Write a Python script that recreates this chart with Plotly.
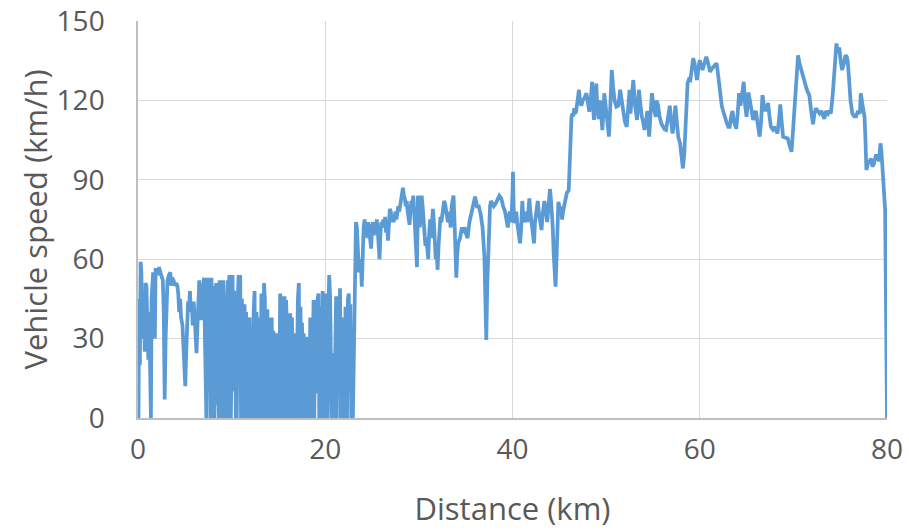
import plotly.graph_objects as go

# ---- segment 1: 0 - 7 km (urban start) ----
dist_start = [
    0.00, 0.05, 0.12, 0.20, 0.28, 0.36, 0.45, 0.55, 0.64, 0.72, 0.80, 0.90, 1.00, 1.10, 1.20, 1.30, 1.38,
    1.45, 1.52, 1.62, 1.72, 1.80, 1.88, 2.00, 2.12, 2.25, 2.40, 2.55, 2.65, 2.75, 2.85, 2.95, 3.05, 3.15,
    3.30, 3.45, 3.55, 3.65, 3.80, 3.95, 4.05, 4.20, 4.30, 4.40, 4.50, 4.60, 4.75, 4.85, 4.95, 5.05, 5.15,
    5.25, 5.35, 5.45, 5.55, 5.65, 5.75, 5.85, 5.95, 6.05, 6.15, 6.25, 6.35, 6.45, 6.55, 6.65, 6.75, 6.85,
    6.95, 7.05,
]
speed_start = [
    0, 0, 45, 20, 59, 55, 30, 48, 44, 25, 51, 50, 35, 22, 40, 0, 0,
    45, 53, 55, 50, 30, 56, 56, 54, 57, 55, 53, 52, 40, 7, 30, 49, 52,
    54, 55, 50, 53, 52, 50, 51, 50, 47, 40, 45, 38, 35, 27, 20, 12, 25,
    36, 44, 42, 48, 40, 43, 35, 44, 38, 30, 24.5, 35, 45, 52, 48, 37, 42,
    50, 53,
]

# ---- segment 2: 7 - 23 km (stop-and-go) ----
dist_stopgo = [
    7.15, 7.22, 7.30, 7.38, 7.45, 7.55, 7.65, 7.75, 7.85, 7.95, 8.05, 8.15, 8.25, 8.35, 8.45, 8.55,
    8.62, 8.72, 8.82, 8.92, 9.00, 9.10, 9.20, 9.28, 9.38, 9.48, 9.58, 9.66, 9.75, 9.85, 9.92, 10.00,
    10.10, 10.18, 10.26, 10.35, 10.45, 10.55, 10.65, 10.75, 10.85, 10.92, 11.00, 11.10, 11.20, 11.28,
    11.38, 11.48, 11.55, 11.63, 11.72, 11.82, 11.92, 12.00, 12.10, 12.18, 12.26, 12.35, 12.45, 12.55,
    12.65, 12.75, 12.83, 12.92, 13.00, 13.08, 13.18, 13.28, 13.36, 13.46, 13.55, 13.62, 13.72, 13.82,
    13.90, 14.00, 14.10, 14.18, 14.28, 14.38, 14.46, 14.55, 14.64, 14.72, 14.82, 14.90, 15.00, 15.08,
    15.18, 15.28, 15.36, 15.45, 15.55, 15.65, 15.72, 15.82, 15.92, 16.00, 16.08, 16.18, 16.26, 16.36,
    16.45, 16.55, 16.64, 16.72, 16.82, 16.90, 16.98, 17.08, 17.18, 17.25, 17.35, 17.45, 17.52, 17.60,
    17.70, 17.78, 17.88, 17.96, 18.05, 18.12, 18.22, 18.30, 18.40, 18.48, 18.58, 18.66, 18.75, 18.83,
    18.92, 19.00, 19.08, 19.18, 19.28, 19.36, 19.45, 19.55, 19.62, 19.72, 19.82, 19.90, 19.98, 20.08,
    20.16, 20.24, 20.33, 20.42, 20.52, 20.60, 20.68, 20.78, 20.88, 20.96, 21.06, 21.16, 21.22, 21.30,
    21.40, 21.50, 21.58, 21.66, 21.76, 21.84, 21.92, 22.00, 22.08, 22.16, 22.25, 22.33, 22.42, 22.52,
    22.60, 22.68, 22.78, 22.88, 22.95, 23.05, 23.12,
]
speed_stopgo = [
    30, 0, 0, 40, 53, 10, 50, 0, 53, 20, 50, 0, 45, 51, 5, 48,
    0, 52, 25, 50, 0, 52, 40, 0, 45, 30, 52, 0, 54, 48, 0, 52,
    54, 10, 48, 45, 0, 0, 45, 54, 20, 54, 0, 45, 30, 0,
    43, 27, 40, 0, 38, 27, 38, 0, 30, 13, 0, 40, 48, 0,
    40, 33, 0, 38, 20, 0, 47, 40, 0, 51, 45, 0, 40, 41,
    0, 30, 38, 0, 38, 15, 33, 0, 32, 10, 32, 0, 25.7, 0,
    47, 42, 0, 46, 20, 46, 0, 44.6, 30, 0, 29.5, 0, 39.6, 10,
    38, 0, 32, 0, 20, 0, 35, 45, 51, 0, 42, 20, 36, 0,
    32, 0, 30.7, 15, 30.7, 0, 30.7, 8, 38, 0, 38, 20, 44.6, 0,
    44.6, 30, 9.4, 45, 47, 0, 42, 20, 0, 48, 30, 0, 47, 40,
    15, 0, 40, 54, 46, 5, 0, 10, 24.5, 0, 35, 46, 0, 34.5,
    20, 42, 49, 0, 38, 0, 15, 30, 0, 42, 35, 0, 45, 47,
    10, 43, 0, 10, 0, 30, 49,
]

# ---- segment 3: 23 - 80 km (rural / motorway) ----
dist_road = [
    23.20, 23.28, 23.38, 23.50, 23.60, 23.70, 23.80, 23.90, 24.00, 24.10, 24.20,
    24.30, 24.40, 24.50, 24.60, 24.70, 24.80, 24.90, 25.00, 25.10, 25.20, 25.30, 25.40, 25.50, 25.60,
    25.70, 25.80, 25.90, 26.00, 26.10, 26.20, 26.30, 26.40, 26.50, 26.60, 26.70, 26.80, 26.90, 27.00,
    27.10, 27.20, 27.30, 27.40, 27.50, 27.60, 27.70, 27.80, 27.90, 28.00, 28.10, 28.20, 28.30, 28.40,
    28.50, 28.60, 28.70, 28.80, 28.90, 29.00, 29.10, 29.20, 29.30, 29.40, 29.50, 29.60, 29.70, 29.80,
    29.90, 30.00, 30.10, 30.20, 30.30, 30.40, 30.50, 30.60, 30.70, 30.80, 30.90, 31.00, 31.10, 31.20,
    31.30, 31.40, 31.50, 31.60, 31.70, 31.80, 31.90, 32.00, 32.10, 32.20, 32.30, 32.40, 32.50, 32.60,
    32.70, 32.80, 32.90, 33.00, 33.10, 33.20, 33.30, 33.40, 33.50, 33.60, 33.70, 33.80, 33.90, 34.00,
    34.10, 34.20, 34.40, 34.60, 34.70, 34.90, 35.00, 35.20, 35.40, 35.60, 35.80, 36.00, 36.10, 36.20,
    36.40, 36.50, 36.60, 36.80, 36.90, 37.00, 37.10, 37.20, 37.30, 37.40, 37.50, 37.60, 37.70, 37.80,
    37.90, 38.00, 38.20, 38.40, 38.60, 38.80, 38.90, 39.00, 39.20, 39.30, 39.40, 39.50, 39.60, 39.70,
    39.80, 39.90, 40.00, 40.05, 40.12, 40.20, 40.30, 40.40, 40.50, 40.60, 40.70, 40.80, 40.90, 41.00,
    41.05, 41.15, 41.30, 41.40, 41.50, 41.60, 41.70, 41.80, 41.90, 42.00, 42.10, 42.20, 42.30, 42.40,
    42.50, 42.60, 42.70, 42.80, 42.90, 43.00, 43.10, 43.20, 43.30, 43.40, 43.50, 43.60, 43.70, 43.80,
    43.90, 44.00, 44.10, 44.20, 44.30, 44.40, 44.50, 44.60, 44.70, 44.80, 44.90, 45.00, 45.10, 45.20,
    45.30, 45.40, 45.50, 45.60, 45.70, 45.80, 45.90, 46.00, 46.10, 46.20, 46.30, 46.40, 46.50, 46.60,
    46.70, 46.80, 46.90, 47.00, 47.10, 47.20, 47.35, 47.50, 47.70, 47.90, 48.05, 48.20, 48.35, 48.50,
    48.60, 48.70, 48.85, 48.95, 49.05, 49.20, 49.35, 49.45, 49.60, 49.70, 49.80, 49.95, 50.10, 50.30,
    50.45, 50.60, 50.75, 50.90, 51.10, 51.30, 51.50, 51.65, 51.80, 52.00, 52.20, 52.35, 52.50, 52.60,
    52.75, 52.90, 53.10, 53.30, 53.50, 53.65, 53.80, 53.95, 54.10, 54.25, 54.40, 54.50, 54.60, 54.75,
    54.90, 55.05, 55.20, 55.30, 55.40, 55.55, 55.70, 55.90, 56.10, 56.25, 56.40, 56.55, 56.70, 56.80,
    56.95, 57.10, 57.25, 57.40, 57.55, 57.70, 57.90, 58.05, 58.20, 58.35, 58.50, 58.60, 58.70, 58.85,
    59.00, 59.15, 59.30, 59.45, 59.60, 59.70, 59.85, 60.00, 60.15, 60.30, 60.50, 60.70, 60.90, 61.10,
    61.30, 61.50, 61.80, 61.95, 62.10, 62.20, 62.35, 62.50, 62.70, 62.90, 63.05, 63.20, 63.35, 63.50,
    63.65, 63.90, 64.05, 64.20, 64.35, 64.50, 64.70, 64.85, 65.00, 65.10, 65.20, 65.35, 65.50, 65.70,
    65.85, 66.00, 66.15, 66.40, 66.55, 66.70, 66.85, 67.00, 67.15, 67.30, 67.45, 67.60, 67.80, 67.95,
    68.10, 68.30, 68.45, 68.60, 68.75, 68.90, 69.10, 69.40, 69.60, 69.80, 69.95, 70.10, 70.30, 70.50,
    70.65, 70.80, 71.00, 71.20, 71.40, 71.55, 71.70, 71.90, 72.10, 72.25, 72.40, 72.60, 72.80, 73.00,
    73.15, 73.30, 73.50, 73.70, 73.85, 74.00, 74.20, 74.40, 74.60, 74.75, 74.90, 75.05, 75.20, 75.40,
    75.55, 75.70, 75.80, 75.95, 76.10, 76.30, 76.50, 76.70, 76.90, 77.10, 77.20, 77.40, 77.60, 77.70,
    77.80, 77.95, 78.10, 78.30, 78.45, 78.60, 78.80, 79.00, 79.15, 79.30, 79.40, 79.50, 79.65, 79.80,
    79.90, 80.00,
]
speed_road = [
    63, 74, 72, 60, 55, 58, 60, 49.6, 68, 72, 75,
    70, 73, 68, 74, 70, 66, 64, 72, 74, 69, 74, 70, 75, 71,
    65, 60, 70, 74, 72, 75, 73, 76, 70, 74, 67, 75, 79, 78,
    74, 76, 74, 76, 78, 75, 78, 80, 78, 80, 82, 84, 87, 84,
    83, 80, 82, 78, 76, 73, 78, 82, 80, 84, 78, 70, 65, 57,
    84, 80, 72, 78, 84, 80, 76, 70, 65, 68, 62, 60, 70, 75,
    68, 72, 79, 74, 65, 60, 62, 56, 65, 72, 76, 74, 78, 80,
    82, 81, 79, 75, 74, 78, 76, 72, 80, 82, 84, 75, 60, 53,
    62, 66, 68, 72, 70, 72, 70, 68, 74, 77, 80, 83.6, 82, 80,
    80, 79, 77, 72, 68, 61, 45, 29.5, 50, 65, 75, 80, 82, 81,
    80, 80, 81, 83, 84, 83, 81, 80, 78, 76, 74, 72, 75, 78,
    74, 76, 85, 93, 80, 73.6, 76, 78, 74, 70, 68, 66, 70, 78,
    82, 76, 74, 75.6, 78, 74, 80, 83, 78, 75, 70, 68, 66, 74,
    78, 80, 82, 78, 75, 73, 71, 76, 80, 82, 80, 76, 74, 78,
    82, 86.5, 83, 78, 72, 62, 55, 49.6, 60, 75, 81.7, 80, 78, 80,
    75, 78, 80, 82, 84, 85, 85.5, 86, 95, 108, 113.8, 115, 114, 117,
    115, 116, 120, 122, 124, 120, 118, 120, 121, 122.7, 118, 115.7, 120, 127,
    118, 112.6, 120, 126.4, 118, 113, 120, 115, 108.8, 115, 122.7, 118, 112, 106.3,
    118, 131.5, 125, 120, 117.6, 118, 124, 120, 116, 112, 110, 118, 124, 115,
    120, 127.7, 118, 112.6, 124, 118, 114, 112, 108.8, 112, 116, 112, 106.3, 115,
    122.7, 118, 116, 113.8, 120, 118, 114, 111.3, 110, 109, 108.8, 112, 116, 118,
    112, 107.5, 112, 118, 112, 106.3, 103.8, 98, 94.3, 100, 111.3, 120, 126.4, 128,
    127.7, 132, 135.9, 134, 130, 127.7, 132, 135.2, 133, 131.5, 134, 136.5, 134, 130.8,
    132, 133, 134, 130, 124, 121.4, 118, 116, 113, 111.3, 110, 110, 114, 116,
    112, 109.3, 115, 122.7, 118, 122, 127, 118, 113.8, 118, 123, 120, 116, 112.6,
    115, 116, 112, 106.3, 112, 122, 118, 116, 117, 119, 114, 110, 109, 110,
    109, 107.5, 112, 118.5, 112, 106.3, 106, 105.6, 103, 100.6, 108, 117, 128, 137,
    134, 132, 130, 126, 124.5, 123, 122, 116, 111, 115, 117, 116, 115, 116,
    114, 113, 116, 115, 116, 115, 122, 134, 141.5, 138, 140, 135, 131.5, 134,
    137, 136.5, 135, 128, 120, 115, 114, 114, 116, 115, 122.7, 118, 113.8, 105,
    93.7, 96, 97, 98, 95, 96, 99, 99, 97, 103.8, 101, 96, 90, 78.6,
    40, 0,
]

assert len(dist_start) == len(speed_start)
assert len(dist_stopgo) == len(speed_stopgo)
assert len(dist_road) == len(speed_road)

distance_km = dist_start + dist_stopgo + dist_road
speed_kmh = speed_start + speed_stopgo + speed_road

x_ticks = [0, 20, 40, 60, 80]
y_ticks = [0, 30, 60, 90, 120, 150]

text_color = "#595959"
grid_color = "#d9d9d9"
axis_color = "#bfbfbf"
line_color = "#5B9BD5"
font_family = "Open Sans, Liberation Sans, sans-serif"

fig = go.Figure()
fig.add_trace(go.Scatter(
    x=distance_km, y=speed_kmh, mode="lines",
    line=dict(color=line_color, width=3.75),
    showlegend=False, hoverinfo="skip", cliponaxis=False,
))

fig.update_layout(
    width=909, height=530,
    margin=dict(l=138, r=22, t=21, b=112),
    paper_bgcolor="white", plot_bgcolor="white",
    font=dict(family=font_family, color=text_color),
    xaxis=dict(
        range=[0, 80], tickvals=x_ticks, ticktext=[str(v) for v in x_ticks],
        showgrid=True, gridcolor=grid_color, gridwidth=1,
        zeroline=False, showline=True, linecolor=axis_color, linewidth=1.5,
        ticks="", tickfont=dict(size=28, color=text_color),
        ticklabelstandoff=6, automargin=False,
        title=dict(text="Distance (km)", font=dict(size=31, color=text_color), standoff=32),
    ),
    yaxis=dict(
        range=[0, 150], tickvals=y_ticks, ticktext=[str(v) for v in y_ticks],
        showgrid=True, gridcolor=grid_color, gridwidth=1,
        zeroline=False, showline=True, linecolor=axis_color, linewidth=1.5,
        ticks="", tickfont=dict(size=28, color=text_color),
        ticklabelstandoff=26, automargin=False,
        title=dict(text="Vehicle speed (km/h)", font=dict(size=31, color=text_color), standoff=0),
    ),
)

fig.write_html("out.html")
